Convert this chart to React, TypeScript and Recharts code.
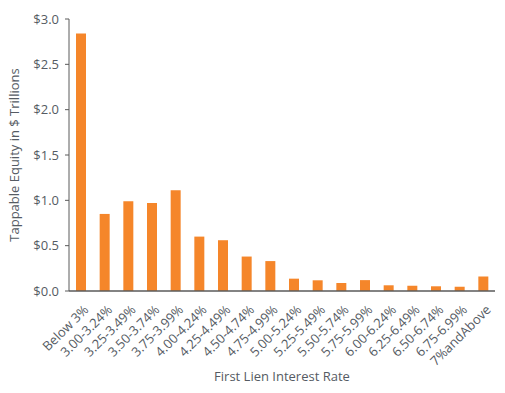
import React from "react";
import { BarChart, Bar, XAxis, YAxis } from "recharts";

const categories = [
  "Below 3%", "3.00-3.24%", "3.25-3.49%", "3.50-3.74%", "3.75-3.99%", "4.00-4.24%",
  "4.25-4.49%", "4.50-4.74%", "4.75-4.99%", "5.00-5.24%", "5.25-5.49%", "5.50-5.74%",
  "5.75-5.99%", "6.00-6.24%", "6.25-6.49%", "6.50-6.74%", "6.75-6.99%", "7%andAbove",
];
const equity = [
  2.84, 0.85, 0.99, 0.97, 1.11, 0.6, 0.56, 0.38, 0.33, 0.136, 0.118, 0.088,
  0.12, 0.063, 0.058, 0.052, 0.047, 0.16,
];
const yTicks = [0, 0.5, 1.0, 1.5, 2.0, 2.5, 3.0];

const data = categories.map((c, i) => ({ name: c, value: equity[i] }));

const FONT = "'Open Sans', sans-serif";
const TEXT = "#555b63";
const AXIS = "#5a5a5a";

const XTick = (props: any) => {
  const { x, y, payload } = props;
  const ax = x + 5;
  const ay = y + 8;
  return (
    <text
      x={ax}
      y={ay}
      transform={`rotate(-45, ${ax}, ${ay})`}
      textAnchor="end"
      dominantBaseline="central"
      fontSize={13}
      fontFamily={FONT}
      fill={TEXT}
    >
      {payload.value}
    </text>
  );
};

export default function App() {
  return (
    <div style={{ position: "absolute", left: 0, top: 0, width: 505, height: 393, background: "#fff" }}>
      <BarChart
        width={505}
        height={393}
        data={data}
        margin={{ top: 19, right: 10, bottom: 2, left: 20 }}
      >
        <XAxis
          dataKey="name"
          interval={0}
          tick={<XTick />}
          tickLine={false}
          axisLine={{ stroke: AXIS, strokeWidth: 1.5 }}
          height={100}
          label={{
            value: "First Lien Interest Rate",
            position: "insideBottom",
            offset: 10,
            style: { fontSize: 13, fontFamily: FONT, fill: TEXT },
          }}
        />
        <YAxis
          domain={[0, 3]}
          ticks={yTicks}
          width={49}
          tickFormatter={(v: number) => `$${v.toFixed(1)}`}
          tick={{ fontSize: 13, fontFamily: FONT, fill: TEXT, dx: -4 }}
          tickLine={{ stroke: AXIS }}
          tickSize={4}
          axisLine={{ stroke: AXIS, strokeWidth: 1 }}
          label={{
            value: "Tappable Equity in $ Trillions",
            angle: -90,
            position: "insideLeft",
            offset: -6,
            style: { textAnchor: "middle", fontSize: 13, fontFamily: FONT, fill: TEXT },
          }}
        />
        <Bar dataKey="value" fill="#F5862A" barSize={10} isAnimationActive={false} />
      </BarChart>
    </div>
  );
}
